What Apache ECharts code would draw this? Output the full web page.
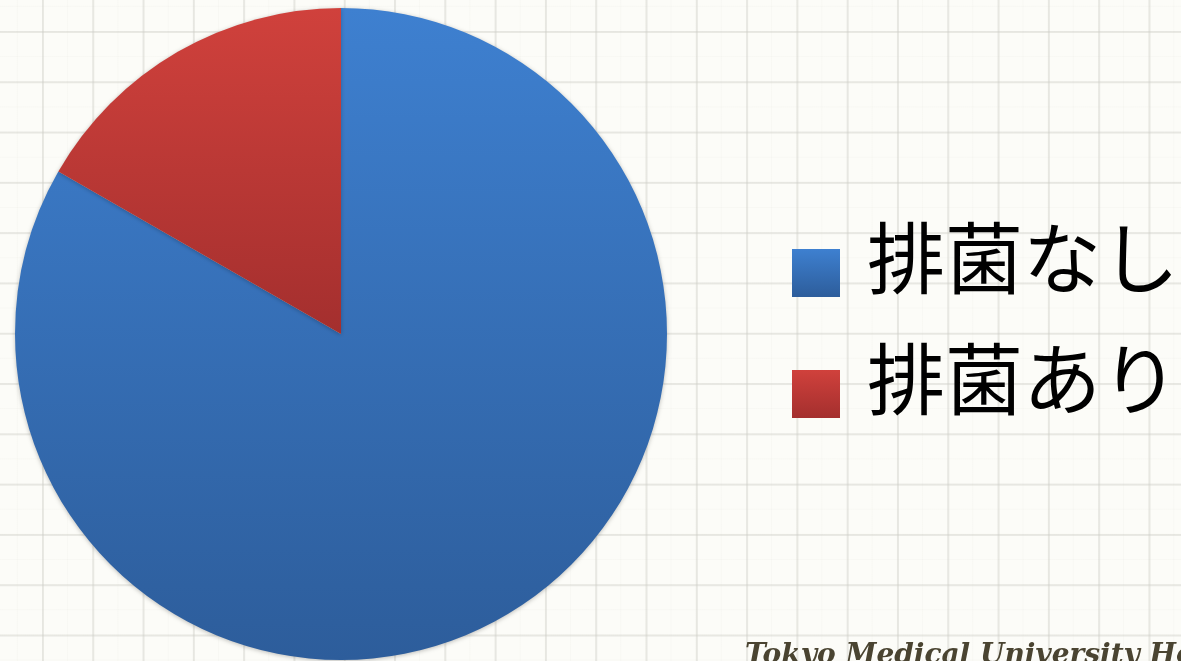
<!DOCTYPE html>
<html>
<head>
<meta charset="utf-8">
<script src="https://cdn.jsdelivr.net/npm/echarts@6/dist/echarts.min.js"></script>
<style>
html,body{margin:0;padding:0;}
body{
  width:1181px;height:661px;overflow:hidden;
  background-color:#fcfcf8;
  background-image:
    linear-gradient(to right, rgba(205,205,198,0.42) 0px, rgba(205,205,198,0.42) 2px, transparent 2px),
    linear-gradient(to bottom, rgba(205,205,198,0.42) 0px, rgba(205,205,198,0.42) 2px, transparent 2px),
    linear-gradient(to right, rgba(220,220,212,0.12) 0px, rgba(220,220,212,0.12) 1px, transparent 1px),
    linear-gradient(to bottom, rgba(220,220,212,0.12) 0px, rgba(220,220,212,0.12) 1px, transparent 1px);
  background-size:50.3px 50.3px,50.3px 50.3px,25.15px 25.15px,25.15px 25.15px;
  background-position:42px 0,0 31px,42px 0,0 31px;
}
#chart{width:1181px;height:661px;}
</style>
</head>
<body>
<div id="chart"></div>
<script>
const categories = ['排菌なし', '排菌あり'];
const values = [83.3, 16.7];
const footerText = 'Tokyo Medical University Hospital';

const colorStops = [
  [{offset:0,color:'#3e80d0'},{offset:1,color:'#2d5d9b'}],
  [{offset:0,color:'#d0413c'},{offset:1,color:'#a42f2e'}]
];

const chart = echarts.init(document.getElementById('chart'), null, {renderer:'canvas'});
chart.setOption({
  backgroundColor:'transparent',
  animation:false,
  legend:{
    orient:'vertical',
    left:787,
    top:214,
    itemWidth:48,
    itemHeight:48,
    itemGap:22,
    icon:'rect',
    data:categories,
    formatter:function(name){ return '{t|' + name + '}\n{s| }'; },
    textStyle:{
      fontFamily:'"Noto Sans CJK JP", sans-serif',
      color:'#000',
      rich:{
        t:{
          fontFamily:'"Noto Sans CJK JP", sans-serif',
          fontSize:78,
          lineHeight:80,
          color:'#000',
          padding:[0,0,0,22]
        },
        s:{
          fontSize:10,
          lineHeight:30
        }
      }
    }
  },
  graphic:[{
    type:'text',
    left:745,
    top:642,
    style:{
      text:footerText,
      fontFamily:'"DejaVu Serif", serif',
      fontStyle:'italic',
      fontWeight:'bold',
      fontSize:28,
      fill:'#4a4431'
    }
  }],
  series:[{
    type:'pie',
    center:[341,334],
    radius:326,
    startAngle:90,
    clockwise:true,
    label:{show:false},
    labelLine:{show:false},
    emphasis:{disabled:true},
    itemStyle:{
      borderWidth:0,
      shadowBlur:4,
      shadowColor:'rgba(0,0,0,0.25)',
      shadowOffsetY:1
    },
    data:categories.map((c,i)=>({
      name:c,
      value:values[i],
      itemStyle:{color:{type:'linear',x:0,y:0,x2:0,y2:1,colorStops:colorStops[i]}}
    }))
  }]
});
</script>
</body>
</html>
